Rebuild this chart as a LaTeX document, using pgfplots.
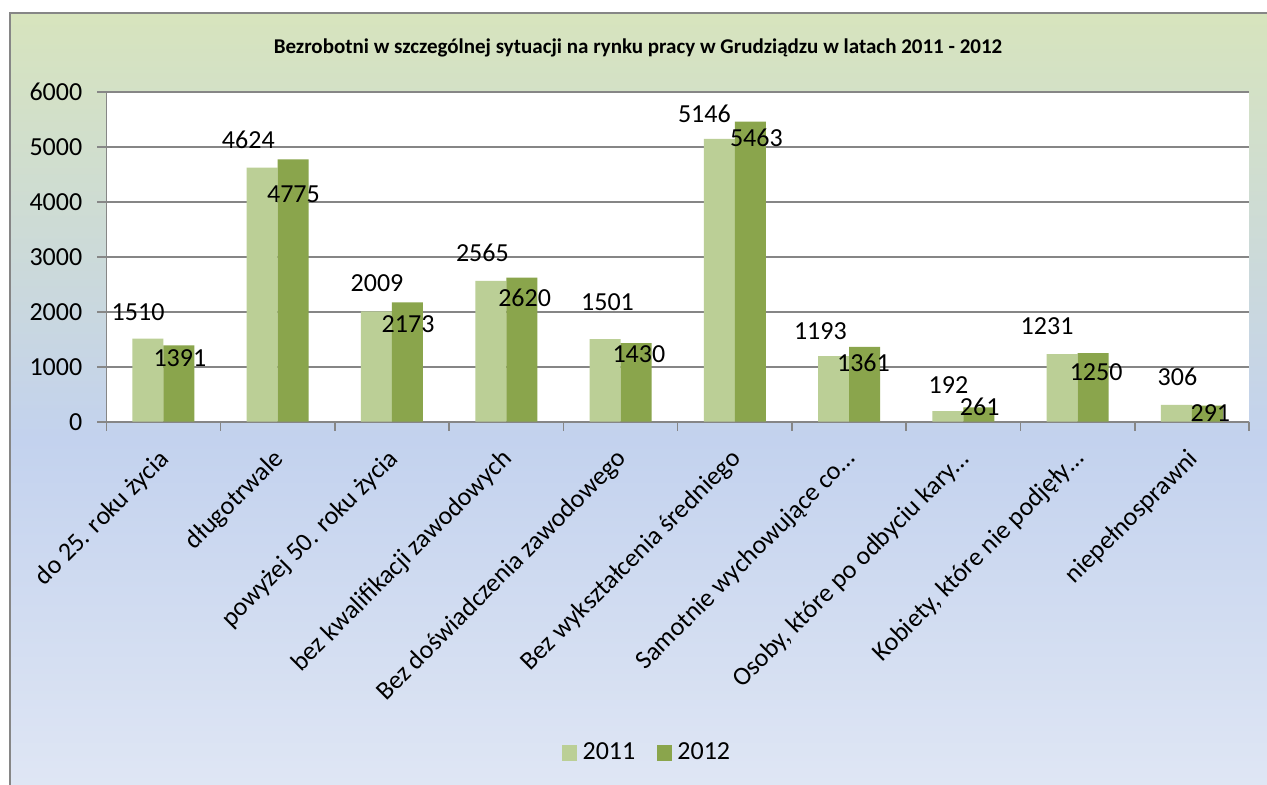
\documentclass[border=0pt]{standalone}
\usepackage{fontspec}
\setmainfont{Carlito}
\usepackage{pgfplots}
\pgfplotsset{compat=1.18}
\definecolor{cA}{HTML}{BBCF96}
\definecolor{cB}{HTML}{8AA54C}
\definecolor{bgtop}{HTML}{D7E4BD}
\definecolor{bgmid}{HTML}{C3D2EE}
\definecolor{bgbot}{HTML}{DFE6F4}
\definecolor{gridc}{HTML}{868686}
\begin{document}
\begin{tikzpicture}
\path[use as bounding box] (0,0) rectangle (633.5pt,-392.5pt);
\shade[top color=bgtop, bottom color=bgmid] (5pt,-6.5pt) rectangle (634pt,-220pt);
\shade[top color=bgmid, bottom color=bgbot] (5pt,-219.8pt) rectangle (634pt,-393pt);
\draw[gridc, line width=0.8pt] (5pt,-393pt) -- (5pt,-6.5pt) -- (634pt,-6.5pt);
\begin{axis}[
 scale only axis, width=571.35pt, height=164.85pt,
 at={(53.15pt,-210.85pt)}, anchor=south west,
 xmin=-0.5, xmax=9.5, ymin=0, ymax=6000,
 clip=false,
 ytick={0,1000,...,6000},
 xtick={0,...,9},
 xticklabels={{do 25. roku życia},{długotrwale},{powyżej 50. roku życia},{bez kwalifikacji zawodowych},{Bez doświadczenia zawodowego},{Bez wykształcenia średniego},{Samotnie wychowujące co…},{Osoby, które po odbyciu kary…},{Kobiety, które nie podjęły…},{niepełnosprawni}},
 minor xtick={-0.5,0.5,...,9.5},
 tick align=outside,
 major tick length=4.5pt, minor tick length=4.5pt,
 tick style={gridc, line width=0.8pt},
 major x tick style={draw=none},
 axis line style={gridc, line width=0.8pt},
 axis x line*=bottom, axis y line*=left,
 ymajorgrids, grid style={gridc, line width=0.8pt},
 axis background/.style={fill=white},
 scaled y ticks=false,
 /pgf/number format/1000 sep={},
 /pgf/number format/assume math mode=true,
 tick label style={font=\fontsize{13}{15}\selectfont},
 xticklabel style={yshift=-11.5pt, xshift=2pt, rotate=45, anchor=east, inner sep=1pt},
 yticklabel style={anchor=east, xshift=-4pt},
 title={\textbf{Bezrobotni w szczególnej sytuacji na rynku pracy w Grudziądzu w latach 2011 - 2012}},
 title style={at={(0.4653,1.1426)}, anchor=center, yshift=-7.5pt, font=\fontsize{10.5}{12}\selectfont},
 legend style={at={(0.4745,-1.005)}, anchor=center, draw=none, fill=none,
   legend columns=-1, font=\fontsize{13}{15}\selectfont,
   nodes={inner sep=2.6pt},
   /tikz/every even column/.append style={column sep=8pt}},
]
\addplot[ybar, bar width=15.5pt, bar shift=-7.75pt, fill=cA, draw=none,
  legend image code/.code={\fill[cA] (0pt,-3.9pt) rectangle (7.85pt,3.9pt);}]
 coordinates {(0,1510) (1,4624) (2,2009) (3,2565) (4,1501) (5,5146) (6,1193) (7,192) (8,1231) (9,306)};
\addlegendentry{2011}
\addplot[ybar, bar width=15.5pt, bar shift=7.75pt, fill=cB, draw=none,
  legend image code/.code={\fill[cB] (0pt,-3.9pt) rectangle (7.85pt,3.9pt);}]
 coordinates {(0,1391) (1,4775) (2,2173) (3,2620) (4,1430) (5,5463) (6,1361) (7,261) (8,1250) (9,291)};
\addlegendentry{2012}
\addplot[forget plot, only marks, mark=*, mark size=0pt, mark options={draw=none, fill=none},
  nodes near coords, point meta=explicit symbolic,
  every node near coord/.style={anchor=center, inner sep=0pt, font=\fontsize{13}{15}\selectfont, text=black}]
 table[meta=lbl] {
x y lbl
-0.222 2002 1510
0.144 1154 1391
0.743 5126 4624
1.138 4144 4775
1.869 2519 2009
2.141 1773 2173
2.791 3065 2565
3.161 2246 2620
3.886 2184 1501
4.161 1227 1430
4.734 5612 5146
5.189 5168 5463
5.749 1656 1193
6.126 1074 1361
6.870 668 192
7.143 273 261
7.733 1742 1231
8.162 910 1250
8.874 808 306
9.162 153 291
};
\end{axis}
\end{tikzpicture}
\end{document}
